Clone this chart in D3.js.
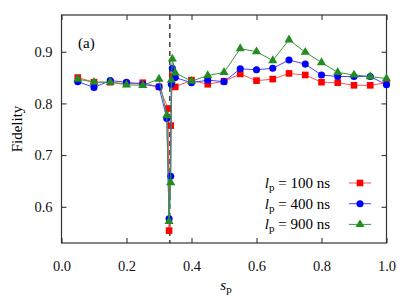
<!DOCTYPE html>
<html>
<head>
<meta charset="utf-8">
<script src="https://cdn.jsdelivr.net/npm/d3@7"></script>
<style>
  body { margin: 0; background: #fff; }
  svg text { font-family: "Liberation Serif", "Times New Roman", "DejaVu Serif", serif; }
</style>
</head>
<body>
<div id="chart"></div>
<script>
// Data
var xs100 = [0.05, 0.1, 0.15, 0.2, 0.25, 0.3, 0.328, 0.331, 0.336, 0.341, 0.35, 0.4, 0.45, 0.5, 0.55, 0.6, 0.65, 0.7, 0.75, 0.8, 0.85, 0.9, 0.95, 1.0];
var fid100 = [0.850, 0.841, 0.841, 0.838, 0.840, 0.832, 0.790, 0.554, 0.757, 0.852, 0.832, 0.845, 0.837, 0.843, 0.857, 0.844, 0.847, 0.858, 0.855, 0.841, 0.840, 0.835, 0.835, 0.840];

var xs400 = [0.05, 0.1, 0.15, 0.2, 0.25, 0.3, 0.324, 0.331, 0.336, 0.338, 0.341, 0.35, 0.4, 0.45, 0.5, 0.55, 0.6, 0.65, 0.7, 0.75, 0.8, 0.85, 0.9, 0.95, 1.0];
var fid400 = [0.842, 0.831, 0.844, 0.841, 0.837, 0.832, 0.771, 0.577, 0.659, 0.837, 0.868, 0.850, 0.840, 0.845, 0.842, 0.867, 0.865, 0.868, 0.884, 0.876, 0.855, 0.852, 0.852, 0.852, 0.836];

var xs900 = [0.05, 0.1, 0.15, 0.2, 0.25, 0.3, 0.324, 0.331, 0.336, 0.338, 0.341, 0.35, 0.4, 0.45, 0.5, 0.55, 0.6, 0.65, 0.7, 0.75, 0.8, 0.85, 0.9, 0.95, 1.0];
var fid900 = [0.847, 0.841, 0.841, 0.836, 0.835, 0.847, 0.777, 0.572, 0.647, 0.845, 0.886, 0.859, 0.843, 0.854, 0.860, 0.906, 0.900, 0.883, 0.923, 0.899, 0.879, 0.860, 0.855, 0.852, 0.848];

var legendLabels = ["100", "400", "900"];
var xTicks = [0.0, 0.2, 0.4, 0.6, 0.8, 1.0];
var yTicks = [0.6, 0.7, 0.8, 0.9];
var critical = 1 / 3;

var width = 407, height = 305;
var margin = {left: 61.5, right: 20.5, top: 15, bottom: 62};
var serif = "'Liberation Serif', 'Times New Roman', 'DejaVu Serif', serif";

var svg = d3.select("#chart").append("svg")
    .attr("width", width)
    .attr("height", height);

var x = d3.scaleLinear().domain([0, 1]).range([margin.left, width - margin.right]);
var y = d3.scaleLinear().domain([0.53, 0.971]).range([height - margin.bottom, margin.top]);

var x0 = x.range()[0], x1 = x.range()[1];
var y0 = y.range()[0], y1 = y.range()[1];

function tidy(g) {
    g.select(".domain").remove();
    g.attr("font-family", serif).attr("font-size", 14.5);
    g.selectAll(".tick line").attr("stroke", "#222");
    g.selectAll(".tick text").attr("fill", "#111");
}

// Ticks (inward, on all four sides)
svg.append("g")
    .attr("transform", "translate(0," + y0 + ")")
    .call(d3.axisBottom(x).tickValues(xTicks).tickSize(-5).tickPadding(18).tickFormat(d3.format(".1f")))
    .call(tidy);
svg.append("g")
    .attr("transform", "translate(0," + y1 + ")")
    .call(d3.axisTop(x).tickValues(xTicks).tickSize(-5).tickFormat(""))
    .call(tidy);
svg.append("g")
    .attr("transform", "translate(" + x0 + ",0)")
    .call(d3.axisLeft(y).tickValues(yTicks).tickSize(-5).tickPadding(9).tickFormat(d3.format(".1f")))
    .call(tidy);
svg.append("g")
    .attr("transform", "translate(" + x1 + ",0)")
    .call(d3.axisRight(y).tickValues(yTicks).tickSize(-5).tickFormat(""))
    .call(tidy);

// Frame
svg.append("rect")
    .attr("x", x0).attr("y", y1)
    .attr("width", x1 - x0).attr("height", y0 - y1)
    .attr("fill", "none")
    .attr("stroke", "#333")
    .attr("stroke-width", 1.2);

// Critical point
svg.append("line")
    .attr("x1", x(critical)).attr("x2", x(critical))
    .attr("y1", y1).attr("y2", y0)
    .attr("stroke", "#222")
    .attr("stroke-width", 1.3)
    .attr("stroke-dasharray", "5,4");

var series = [
    {xs: xs100, ys: fid100, line: "#ff5555", fill: "#ff0000", sym: d3.symbolSquare, size: 44},
    {xs: xs400, ys: fid400, line: "#4444ff", fill: "#0000ff", sym: d3.symbolCircle, size: 40},
    {xs: xs900, ys: fid900, line: "#3c9a3c", fill: "#228b22", sym: d3.symbolTriangle, size: 36}
];

var line = d3.line()
    .x(function(d) { return x(d[0]); })
    .y(function(d) { return y(d[1]); });

series.forEach(function(s) {
    var pts = d3.zip(s.xs, s.ys);
    svg.append("path")
        .datum(pts)
        .attr("d", line)
        .attr("fill", "none")
        .attr("stroke", s.line)
        .attr("stroke-width", 1);
    svg.append("g").selectAll("path")
        .data(pts)
        .enter()
        .append("path")
        .attr("d", d3.symbol().type(s.sym).size(s.size))
        .attr("transform", function(d) { return "translate(" + x(d[0]) + "," + y(d[1]) + ")"; })
        .attr("fill", s.fill);
});

// Panel label
svg.append("text")
    .attr("x", 78).attr("y", 48)
    .attr("font-size", 15)
    .text("(a)");

// Axis titles
var xt = svg.append("text")
    .attr("x", (x0 + x1) / 2 + 2).attr("y", 290)
    .attr("text-anchor", "middle")
    .attr("font-size", 15);
xt.append("tspan").attr("font-style", "italic").text("s");
xt.append("tspan").attr("font-size", 11).attr("dy", 3).text("p");

svg.append("text")
    .attr("transform", "translate(22," + ((y0 + y1) / 2) + ") rotate(-90)")
    .attr("text-anchor", "middle")
    .attr("font-size", 15)
    .text("Fidelity");

// Legend
var legend = svg.append("g");
series.forEach(function(s, i) {
    var ly = 183 + i * 20.7;
    var t = legend.append("text")
        .attr("x", 330).attr("y", ly + 5)
        .attr("text-anchor", "end")
        .attr("font-size", 15);
    t.append("tspan").attr("font-style", "italic").text("l");
    t.append("tspan").attr("font-size", 11).attr("dy", 3).text("p");
    t.append("tspan").attr("dy", -3).text(" = " + legendLabels[i] + " ns");
    legend.append("line")
        .attr("x1", 349).attr("x2", 371)
        .attr("y1", ly).attr("y2", ly)
        .attr("stroke", s.line).attr("stroke-width", 1);
    legend.append("path")
        .attr("d", d3.symbol().type(s.sym).size(s.size))
        .attr("transform", "translate(360," + ly + ")")
        .attr("fill", s.fill);
});
</script>
</body>
</html>
